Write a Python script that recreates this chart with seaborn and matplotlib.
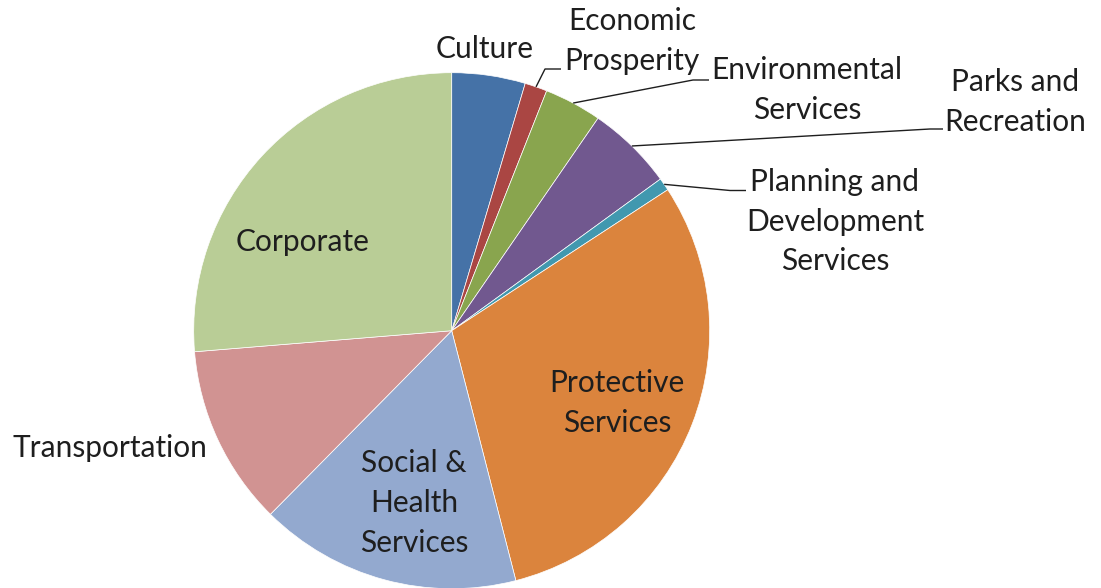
import matplotlib
matplotlib.use("Agg")
import matplotlib.pyplot as plt
import seaborn as sns
import numpy as np

# Budget share by service area (percent), clockwise from 12 o'clock
categories = [
    "Culture",
    "Economic\nProsperity",
    "Environmental\nServices",
    "Parks and\nRecreation",
    "Planning and\nDevelopment\nServices",
    "Protective\nServices",
    "Social &\nHealth\nServices",
    "Transportation",
    "Corporate",
]
shares = [4.6, 1.4, 3.6, 5.4, 0.8, 30.2, 16.4, 11.3, 26.3]
colors = ["#4572A7", "#AA4643", "#89A54E", "#71588F", "#4198AF",
          "#DB843D", "#93A9CF", "#D19392", "#B9CD96"]

sns.set_theme(style="white")
plt.rcParams["font.family"] = ["Lato", "DejaVu Sans"]

W, H, DPI = 1101, 588, 100
fig = plt.figure(figsize=(W / DPI, H / DPI), dpi=DPI)
fig.patch.set_facecolor("white")

# pie geometry in figure pixels (origin top-left)
CX, CY, R = 451.7, 330.7, 258.0
ax = fig.add_axes([(CX - R) / W, (H - CY - R) / H, 2 * R / W, 2 * R / H])


def px(x, y):
    """figure pixel -> pie data coordinates"""
    return (x - CX) / R, (CY - y) / R


wedges, _ = ax.pie(
    shares, colors=colors, startangle=90, counterclock=False, radius=1,
    wedgeprops=dict(edgecolor="white", linewidth=0.5),
)
ax.set_xlim(-1, 1)
ax.set_ylim(-1, 1)
ax.set_aspect("equal")
ax.axis("off")

FS = 21.5
TXT = "#1e1e1e"

# label layout: (text centre in pixels, leader elbow, leader end) — None means no leader
layout = {
    "Culture": ((485, 49), None, None),
    "Economic\nProsperity": ((632, 41), (545, 69), (561, 69)),
    "Environmental\nServices": ((807, 90), (693, 80), (709, 80)),
    "Parks and\nRecreation": ((1015, 102), (930, 129), (943, 129)),
    "Planning and\nDevelopment\nServices": ((835, 222), (730, 190.5), (746, 190.5)),
    "Protective\nServices": ((617, 403), None, None),
    "Social &\nHealth\nServices": ((414, 503), None, None),
    "Transportation": ((110, 448), None, None),
    "Corporate": ((303, 242), None, None),
}

for w, name in zip(wedges, categories):
    (tx, ty), elbow, end = layout[name]
    ax.text(*px(tx, ty), name, ha="center", va="center", fontsize=FS,
            color=TXT, linespacing=1.5, clip_on=False)
    if elbow is not None:
        mid = np.deg2rad((w.theta1 + w.theta2) / 2)
        ax0, ay0 = np.cos(mid), np.sin(mid)
        ex, ey = px(*elbow)
        fx, fy = px(*end)
        ax.plot([ax0, ex, fx], [ay0, ey, fy], color="#1e1e1e", lw=1.0,
                clip_on=False, solid_capstyle="butt")

fig.savefig("out.png", dpi=DPI)
